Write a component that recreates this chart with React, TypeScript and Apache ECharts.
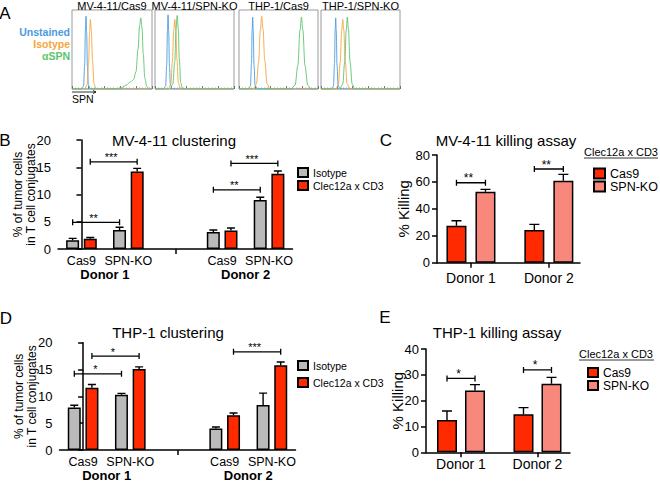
import React, { useEffect, useRef } from "react";
import * as echarts from "echarts";

// ---------- Panel A: flow histograms ([SPN intensity position 0-100, relative count 0-100]) ----------
const histTitles = ["MV-4-11/Cas9", "MV-4-11/SPN-KO", "THP-1/Cas9", "THP-1/SPN-KO"];
const stainLabels = ["Unstained", "Isotype", "αSPN"];
const a1Unstained = [[0, 0], [12, 0], [14.5, 4], [15.8, 30], [16.8, 75], [17.5, 92], [18.3, 72], [19.3, 28], [20.5, 5], [23, 0], [100, 0]];
const a1Isotype = [[0, 0], [16, 0], [19, 6], [20.8, 35], [22, 72], [23, 88], [24.2, 74], [25.6, 36], [27.5, 7], [30, 0], [100, 0]];
const a1Aspn = [[0, 0], [55, 0], [62, 2], [68, 5], [73, 9], [77, 12], [80, 22], [82.5, 50], [84.5, 80], [86, 90], [87.5, 78], [89, 45], [91, 14], [93.5, 3], [97, 0], [100, 0]];
const a2Unstained = [[0, 0], [11, 0], [13.5, 4], [14.8, 30], [15.8, 75], [16.5, 94], [17.3, 74], [18.3, 28], [19.5, 5], [22, 0], [100, 0]];
const a2Isotype = [[0, 0], [17, 0], [20, 6], [22, 35], [23.7, 74], [25, 88], [26.3, 76], [27.8, 38], [29.5, 8], [32, 0], [100, 0]];
const a2Aspn = [[0, 0], [19, 0], [22.5, 6], [25, 34], [26.7, 76], [28, 93], [29.3, 78], [30.8, 38], [32.5, 8], [35, 0], [100, 0]];
const a3Unstained = [[0, 0], [12, 0], [14.5, 4], [15.8, 32], [16.7, 76], [17.3, 91], [18, 74], [19, 30], [20.3, 5], [23, 0], [100, 0]];
const a3Isotype = [[0, 0], [18, 0], [22, 6], [24.8, 34], [27, 74], [28.7, 92], [30.4, 76], [32.6, 36], [35.5, 7], [39, 0], [100, 0]];
const a3Aspn = [[0, 0], [66, 0], [71, 5], [74.5, 30], [77.2, 74], [79, 91], [80.8, 75], [83.5, 30], [87, 5], [91, 0], [100, 0]];
const a4Unstained = [[0, 0], [13, 0], [15.8, 4], [17.1, 32], [18, 76], [18.6, 90], [19.3, 74], [20.3, 30], [21.6, 5], [24, 0], [100, 0]];
const a4Isotype = [[0, 0], [19, 0], [22, 6], [24.3, 34], [26.2, 74], [27.5, 88], [28.8, 75], [30.7, 35], [33, 7], [36, 0], [100, 0]];
const a4Aspn = [[0, 0], [24, 0], [27.5, 6], [30, 34], [32, 75], [33.3, 91], [34.7, 76], [36.8, 34], [39.5, 6], [43, 0], [100, 0]];

// ---------- Panels B & D: clustering ----------
const clusterCategories = ["Cas9", "SPN-KO", "", "Cas9", "SPN-KO"];
const clusterPositions = [0, 1, 2, 3, 4];
const donorGroupCenters = [0.5, 3.5];
const donorNames = ["Donor 1", "Donor 2"];

const mvIsotype = [1.6, 3.5, null, 3.1, 9.0];
const mvIsotypeErr = [0.35, 0.5, null, 0.4, 0.5];
const mvClec = [1.9, 14.2, null, 3.4, 13.8];
const mvClecErr = [0.2, 0.6, null, 0.45, 0.5];
// [from category, side(-1 isotype / +1 Clec), to category, side, height]
const mvBrackets = [[0, -1, 1, -1, 4.9], [0, 1, 1, 1, 16.0], [3, -1, 4, -1, 10.85], [3, 1, 4, 1, 15.7]];
const mvBracketStars = ["**", "***", "**", "***"];

const thpIsotype = [7.9, 10.3, null, 4.0, 8.4];
const thpIsotypeErr = [0.45, 0.25, null, 0.3, 2.2];
const thpClec = [11.6, 15.1, null, 6.5, 15.8];
const thpClecErr = [0.6, 0.4, null, 0.4, 0.6];
const thpBrackets = [[0, -1, 1, -1, 14.2], [0, 1, 1, 1, 17.5], [3, 1, 4, 1, 18.3]];
const thpBracketStars = ["*", "*", "***"];

// ---------- Panels C & E: killing ----------
const donorPositions = [1, 2];
const mvKillCas9 = [27.5, 24.3];
const mvKillCas9Err = [3.7, 4.2];
const mvKillSpnKo = [52.7, 60.9];
const mvKillSpnKoErr = [1.8, 4.7];
const mvKillBrackets = [[1, -1, 1, 1, 59.4], [2, -1, 2, 1, 69.6]];
const mvKillStars = ["**", "**"];

const thpKillCas9 = [12.5, 14.7];
const thpKillCas9Err = [3.5, 2.6];
const thpKillSpnKo = [23.9, 26.5];
const thpKillSpnKoErr = [2.3, 2.5];
const thpKillBrackets = [[1, -1, 1, 1, 28.6], [2, -1, 2, 1, 31.9]];
const thpKillStars = ["*", "*"];

const FONT = "'Liberation Sans', Arial, Helvetica, sans-serif";
const BLUE = "#4a9be0";
const ORANGE = "#f6a540";
const GREEN = "#5cc46c";
const GREY = "#bababa";
const RED = "#ff2a00";
const PINK = "#f8877c";

const histGrids = [
  { left: 72, top: 10, width: 80, height: 79 },
  { left: 155, top: 10, width: 79, height: 79 },
  { left: 239, top: 10, width: 79, height: 79 },
  { left: 321, top: 10, width: 79, height: 79 },
];

function errorSeries(xi: number, yi: number, xs: number[], vals: any[], errs: any[], offset: number, cap: number) {
  const data: any[] = [];
  vals.forEach((v, i) => {
    if (v != null) data.push([xs[i], v, errs[i]]);
  });
  return {
    type: "custom",
    xAxisIndex: xi,
    yAxisIndex: yi,
    data,
    encode: { x: 0, y: 1 },
    z: 1,
    clip: false,
    silent: true,
    itemStyle: { color: "#000" },
    renderItem: (params: any, api: any) => {
      const base = api.coord([api.value(0), api.value(1)]);
      const top = api.coord([api.value(0), api.value(1) + api.value(2)]);
      const x = base[0] + offset;
      return {
        type: "polyline",
        shape: { points: [[x, base[1]], [x, top[1]], [x - cap, top[1]], [x + cap, top[1]]] },
        style: { stroke: "#000", lineWidth: 1.4, fill: "none" },
      };
    },
  };
}

// brackets: list items [x1, side1, x2, side2, y]; drawn as one element per bracket
function bracketSeries(xi: number, yi: number, list: number[][], stars: string[], half: number, fontSize: number) {
  return {
    type: "custom",
    xAxisIndex: xi,
    yAxisIndex: yi,
    data: list.map((b, i) => ({ value: b, name: "b" + i })),
    dimensions: ["x1", "s1", "x2", "s2", "y"],
    encode: { x: [0, 2], y: 4 },
    silent: true,
    clip: false,
    z: 6,
    itemStyle: { color: "#000" },
    renderItem: (params: any, api: any) => {
      const y = api.value(4);
      const p1 = api.coord([api.value(0), y]);
      const p2 = api.coord([api.value(2), y]);
      const x1 = p1[0] + api.value(1) * half;
      const x2 = p2[0] + api.value(3) * half;
      const yy = p1[1];
      return {
        type: "polyline",
        shape: { points: [[x1, yy - 3], [x1, yy + 3], [x1, yy], [x2, yy], [x2, yy - 3], [x2, yy + 3]] },
        style: { stroke: "#000000", lineWidth: 1.3, fill: "none" },
        textContent: {
          type: "text",
          style: { text: stars[params.dataIndex], fontSize, fontFamily: FONT, fill: "#000000", align: "center", verticalAlign: "middle" },
        },
        textConfig: { position: [(x1 + x2) / 2 - Math.min(x1, x2), 1] },
      };
    },
  };
}

const blackLine = { show: true, lineStyle: { color: "#000", width: 1.5 } };

function clusterY(gi: number, name: string) {
  return {
    gridIndex: gi,
    type: "value",
    min: 0,
    max: 20,
    interval: 5,
    name,
    nameLocation: "middle",
    nameRotate: 90,
    nameGap: 21,
    nameMoveOverlap: false,
    nameTextStyle: { fontSize: 12, color: "#000", fontFamily: FONT, lineHeight: 13 },
    axisLine: blackLine,
    axisTick: { show: true, length: 5, lineStyle: { color: "#000", width: 1.5 } },
    axisLabel: { fontSize: 13, color: "#000", margin: 7 },
    splitLine: { show: false },
  };
}

function killY(gi: number, max: number, interval: number, nameGap: number) {
  return {
    gridIndex: gi,
    type: "value",
    min: 0,
    max,
    interval,
    name: "% Killing",
    nameLocation: "middle",
    nameRotate: 90,
    nameGap,
    nameMoveOverlap: false,
    nameTextStyle: { fontSize: 15, color: "#000", fontFamily: FONT },
    axisLine: blackLine,
    axisTick: { show: true, length: 5, lineStyle: { color: "#000", width: 1.5 } },
    axisLabel: { fontSize: 13, color: "#000", margin: 7 },
    splitLine: { show: false },
  };
}

function clusterX(gi: number) {
  return {
    gridIndex: gi,
    type: "category",
    data: clusterCategories,
    axisLine: blackLine,
    axisTick: { show: true, interval: (i: number) => i === 2, alignWithLabel: true, length: 5, lineStyle: { color: "#000", width: 1.5 } },
    axisLabel: { interval: 0, fontSize: 12.5, color: "#000", margin: 5 },
    splitLine: { show: false },
  };
}

function donorX(gi: number) {
  return {
    gridIndex: gi,
    type: "value",
    min: -0.5,
    max: 4.5,
    position: "bottom",
    offset: 15,
    axisLine: { show: false },
    axisTick: { show: false },
    splitLine: { show: false },
    axisLabel: {
      customValues: donorGroupCenters,
      formatter: (v: number) => donorNames[donorGroupCenters.indexOf(v)],
      fontSize: 13,
      fontWeight: "bold",
      color: "#000",
      margin: 4,
    },
  };
}

function killX(gi: number, min: number, max: number, margin: number) {
  return {
    gridIndex: gi,
    type: "value",
    min,
    max,
    axisLine: blackLine,
    axisTick: { show: true, customValues: donorPositions, length: 5, lineStyle: { color: "#000", width: 1.5 } },
    axisLabel: {
      customValues: donorPositions,
      formatter: (v: number) => donorNames[donorPositions.indexOf(v)],
      fontSize: 14,
      color: "#000",
      margin,
    },
    splitLine: { show: false },
  };
}

export default function App() {
  const ref = useRef<HTMLDivElement>(null);
  useEffect(() => {
    document.body.style.margin = "0";
    const chart = echarts.init(ref.current!, undefined, { renderer: "svg" });

    const histData = [
      [a1Unstained, a1Isotype, a1Aspn],
      [a2Unstained, a2Isotype, a2Aspn],
      [a3Unstained, a3Isotype, a3Aspn],
      [a4Unstained, a4Isotype, a4Aspn],
    ];
    const histColors = [BLUE, ORANGE, GREEN];

    const grids: any[] = histGrids.map((g) => ({ ...g, show: true, borderColor: "#9a9a9a", borderWidth: 1, backgroundColor: "#fff" }));
    grids.push({ left: 58, top: 140, width: 234.5, height: 109 }); // B (4)
    grids.push({ left: 437, top: 155, width: 143, height: 107.7 }); // C (5)
    grids.push({ left: 59.5, top: 342.7, width: 236, height: 109 }); // D (6)
    grids.push({ left: 426, top: 349, width: 144, height: 103.3 }); // E (7)

    const xAxes: any[] = histGrids.map((_, i) => ({
      gridIndex: i,
      type: "value",
      min: 0,
      max: 100,
      interval: 20,
      axisLine: { show: false },
      axisTick: { show: true, inside: true, length: 3, lineStyle: { color: "#555", width: 0.8 } },
      minorTick: { show: true, splitNumber: 5, length: 1.5, lineStyle: { color: "#777", width: 0.6 } },
      axisLabel: { show: false },
      splitLine: { show: false },
    }));
    xAxes.push(clusterX(4)); // 4
    xAxes.push(killX(5, 0.564, 2.4, 8)); // 5
    xAxes.push(clusterX(6)); // 6
    xAxes.push(killX(7, 0.5425, 2.425, 5)); // 7
    xAxes.push(donorX(4)); // 8
    xAxes.push(donorX(6)); // 9

    const yAxes: any[] = histGrids.map((_, i) => ({
      gridIndex: i,
      type: "value",
      min: 0,
      max: 100,
      show: false,
    }));
    yAxes.push(clusterY(4, "% of tumor cells\nin T cell conjugates"));
    yAxes.push(killY(5, 80, 20, 26));
    yAxes.push(clusterY(6, "% of tumor cells\nin T cell conjugates"));
    yAxes.push(killY(7, 40, 10, 21));

    const series: any[] = [];
    histData.forEach((curves, gi) => {
      curves.forEach((d, ci) => {
        series.push({
          type: "line",
          name: histTitles[gi] + " " + stainLabels[ci],
          xAxisIndex: gi,
          yAxisIndex: gi,
          data: d,
          smooth: 0.35,
          smoothMonotone: "x",
          showSymbol: false,
          silent: true,
          lineStyle: { color: histColors[ci], width: 0.9 },
          itemStyle: { color: histColors[ci] },
        });
      });
    });

    const clusterBar = (xi: number, name: string, vals: any[], color: string) => ({
      type: "bar",
      name,
      xAxisIndex: xi,
      yAxisIndex: xi,
      data: vals.map((v) => (v == null ? "-" : v)),
      barWidth: 13,
      barGap: "36%",
      silent: true,
      itemStyle: { color, borderColor: "#000", borderWidth: 1.5 },
    });
    const killBar = (xi: number, name: string, vals: number[], color: string, gap: string) => ({
      type: "bar",
      name,
      xAxisIndex: xi,
      yAxisIndex: xi,
      data: vals.map((v, i) => [donorPositions[i], v]),
      barWidth: 20,
      barGap: gap,
      silent: true,
      itemStyle: { color, borderColor: "#000", borderWidth: 1.5 },
    });

    // B
    series.push(clusterBar(4, "Isotype", mvIsotype, GREY));
    series.push(clusterBar(4, "Clec12a x CD3", mvClec, RED));
    series.push(errorSeries(4, 4, clusterPositions, mvIsotype, mvIsotypeErr, -8.8, 4));
    series.push(errorSeries(4, 4, clusterPositions, mvClec, mvClecErr, 8.8, 4));
    series.push(bracketSeries(4, 4, mvBrackets, mvBracketStars, 8.8, 11));
    // D
    series.push(clusterBar(6, "Isotype", thpIsotype, GREY));
    series.push(clusterBar(6, "Clec12a x CD3", thpClec, RED));
    series.push(errorSeries(6, 6, clusterPositions, thpIsotype, thpIsotypeErr, -8.8, 4));
    series.push(errorSeries(6, 6, clusterPositions, thpClec, thpClecErr, 8.8, 4));
    series.push(bracketSeries(6, 6, thpBrackets, thpBracketStars, 8.8, 11));
    // C
    series.push(killBar(5, "Cas9", mvKillCas9, RED, "45%"));
    series.push(killBar(5, "SPN-KO", mvKillSpnKo, PINK, "45%"));
    series.push(errorSeries(5, 5, donorPositions, mvKillCas9, mvKillCas9Err, -14.5, 5));
    series.push(errorSeries(5, 5, donorPositions, mvKillSpnKo, mvKillSpnKoErr, 14.5, 5));
    series.push(bracketSeries(5, 5, mvKillBrackets, mvKillStars, 14.5, 12));
    // E
    series.push(killBar(7, "Cas9", thpKillCas9, RED, "40%"));
    series.push(killBar(7, "SPN-KO", thpKillSpnKo, PINK, "40%"));
    series.push(errorSeries(7, 7, donorPositions, thpKillCas9, thpKillCas9Err, -14, 5));
    series.push(errorSeries(7, 7, donorPositions, thpKillSpnKo, thpKillSpnKoErr, 14, 5));
    series.push(bracketSeries(7, 7, thpKillBrackets, thpKillStars, 14, 12));

    const legendBase = {
      orient: "vertical",
      icon: "rect",
      selectedMode: false,
      textStyle: { color: "#000", fontFamily: FONT },
    };
    const legends = [
      { ...legendBase, data: ["Isotype", "Clec12a x CD3"], left: 292, top: 162, itemWidth: 10, itemHeight: 9, itemGap: 2, textStyle: { ...legendBase.textStyle, fontSize: 10.5, lineHeight: 11 } },
      { ...legendBase, data: ["Isotype", "Clec12a x CD3"], left: 292, top: 355, itemWidth: 10, itemHeight: 9, itemGap: 6, textStyle: { ...legendBase.textStyle, fontSize: 10.5, lineHeight: 11 } },
      { ...legendBase, data: ["Cas9", "SPN-KO"], left: 588, top: 162, itemWidth: 11, itemHeight: 10, itemGap: 0, textStyle: { ...legendBase.textStyle, fontSize: 12.5, lineHeight: 13 } },
      { ...legendBase, data: ["Cas9", "SPN-KO"], left: 582, top: 361, itemWidth: 10, itemHeight: 9, itemGap: 0, textStyle: { ...legendBase.textStyle, fontSize: 12, lineHeight: 13 } },
    ];

    const txt = (text: string, x: number, y: number, fontSize: number, extra: any = {}) => ({
      type: "text",
      x,
      y,
      silent: true,
      style: { text, fontSize, fontFamily: FONT, fill: "#000", textAlign: "center", textVerticalAlign: "middle", ...extra },
    });

    const graphic: any[] = [
      txt("A", 5, 13, 17),
      txt("B", 5, 140, 17),
      txt("C", 386, 140, 17),
      txt("D", 6, 318, 17),
      txt("E", 385, 317, 17),
      txt("MV-4-11 clustering", 174, 140, 15),
      txt("MV-4-11 killing assay", 506, 140, 15),
      txt("THP-1 clustering", 168, 332, 15),
      txt("THP-1 killing assay", 497, 332, 15),
      txt("Unstained", 70, 32, 10.5, { textAlign: "right", fontWeight: "bold", fill: BLUE }),
      txt("Isotype", 70, 44, 10.5, { textAlign: "right", fontWeight: "bold", fill: ORANGE }),
      txt("αSPN", 70, 56, 10.5, { textAlign: "right", fontWeight: "bold", fill: GREEN }),
      txt("SPN", 72, 99, 10.5, { textAlign: "left" }),
      { type: "line", silent: true, shape: { x1: 72, y1: 92, x2: 96, y2: 92 }, style: { stroke: "#000", lineWidth: 0.8 } },
      { type: "polyline", silent: true, shape: { points: [[93, 90.5], [96, 92], [93, 93.5]] }, style: { stroke: "#000", lineWidth: 0.8, fill: null } },
      txt("Clec12a x CD3", 584, 152, 11, { textAlign: "left" }),
      { type: "line", silent: true, shape: { x1: 584, y1: 158, x2: 658, y2: 158 }, style: { stroke: "#000", lineWidth: 0.8 } },
      txt("Clec12a x CD3", 579, 354, 11, { textAlign: "left" }),
      { type: "line", silent: true, shape: { x1: 579, y1: 360, x2: 654, y2: 360 }, style: { stroke: "#000", lineWidth: 0.8 } },
    ];
    histGrids.forEach((g, i) => {
      graphic.push(txt(histTitles[i], g.left + g.width / 2, 6, 11));
    });

    chart.setOption({
      animation: false,
      backgroundColor: "#fff",
      textStyle: { fontFamily: FONT },
      grid: grids,
      xAxis: xAxes,
      yAxis: yAxes,
      legend: legends,
      series,
      graphic,
    });
    return () => chart.dispose();
  }, []);
  return <div ref={ref} style={{ width: 660, height: 482 }} />;
}
